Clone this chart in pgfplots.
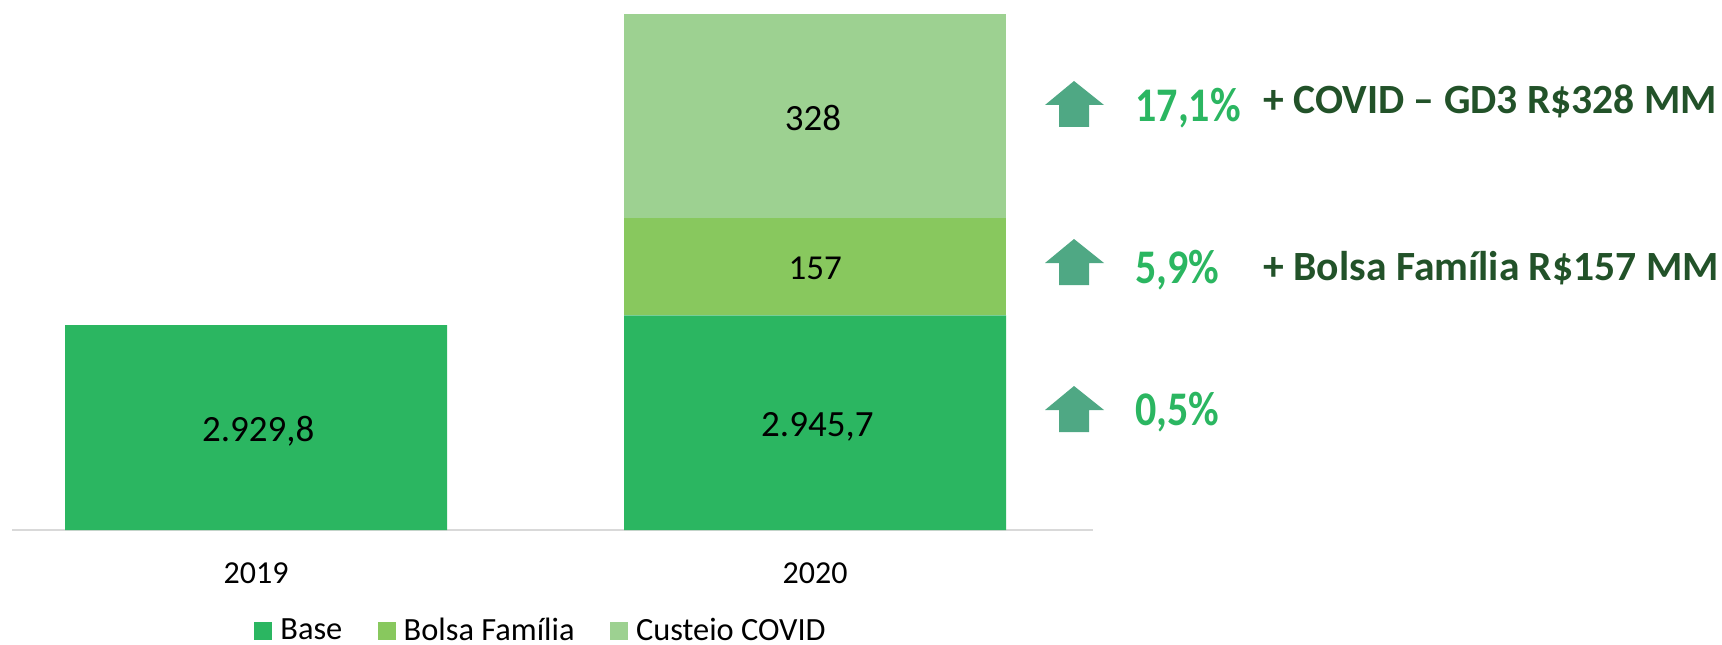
\documentclass[border=0pt]{standalone}
\usepackage{fontspec}
\setmainfont{Carlito}
\usepackage{pgfplots}
\pgfplotsset{compat=1.18}
\definecolor{cbase}{HTML}{2BB661}
\definecolor{cbolsa}{HTML}{88C85E}
\definecolor{ccovid}{HTML}{9DD191}
\definecolor{carrow}{HTML}{4FA884}
\definecolor{cdark}{HTML}{225229}
\begin{document}
\begin{tikzpicture}[x=1pt,y=1pt]
\path[use as bounding box] (0,0) rectangle (861,322);
\begin{axis}[
    at={(6pt,57pt)},
    anchor=south west,
    scale only axis,
    width=540.5pt,
    height=258pt,
    ybar stacked,
    bar width=191pt,
    xmin=-0.4365, xmax=1.497,
    ymin=2600, ymax=3430.7,
    axis x line=bottom,
    axis y line=none,
    axis line style={draw=black!15,line width=1.2pt,-},
    xtick={0,1},
    xticklabels={2019,2020},
    major tick length=0pt,
    xticklabel style={font=\fontsize{16}{18}\selectfont,yshift=-12.7pt},
    legend columns=-1,
    legend style={draw=none,fill=none,at={(121pt,-50.5pt)},anchor=west,inner sep=0pt,
        font=\fontsize{16.2}{18}\selectfont,
        /tikz/every even column/.append style={column sep=15.7pt},
        /tikz/every odd column/.append style={column sep=2pt}},
    legend image code/.code={\fill[#1] (0pt,-4.5pt) rectangle (9pt,4.5pt);},
]
\addplot[fill=cbase,draw=none] coordinates {(0,2929.8) (1,2945.7)};
\addplot[fill=cbolsa,draw=none] coordinates {(0,0) (1,157)};
\addplot[fill=ccovid,draw=none] coordinates {(0,0) (1,328)};
\legend{Base,Bolsa Família,Custeio COVID}
\end{axis}
% second axis with the same limits: the stacked bars are drawn last, so labels go on top here
\begin{axis}[
    at={(6pt,57pt)},
    anchor=south west,
    scale only axis,
    width=540.5pt,
    height=258pt,
    xmin=-0.4365, xmax=1.497,
    ymin=2600, ymax=3430.7,
    hide axis,
]
\node[font=\fontsize{18.5}{20}\selectfont] at (axis cs:0.004,2758.5) {2.929,8};
\node[font=\fontsize{18.5}{20}\selectfont] at (axis cs:1.004,2766.5) {2.945,7};
\node[font=\fontsize{17.5}{20}\selectfont] at (axis cs:1,3021) {157};
\node[font=\fontsize{18.5}{20}\selectfont] at (axis cs:0.996,3263) {328};
\end{axis}
\begin{scope}[x=0.5pt,y=-0.5pt,yshift=322pt]
\foreach \t in {81,239,386}{
  \fill[carrow] (1074,\t) -- (1104,\t+24) -- (1089,\t+24) -- (1089,\t+46) -- (1059,\t+46) -- (1059,\t+24) -- (1045,\t+24) -- cycle;
}
\node[anchor=west,inner sep=0pt,text=cbase,yscale=1.15,font=\bfseries\fontsize{21}{24}\selectfont] at (1135,108) {17,1\%};
\node[anchor=west,inner sep=0pt,text=cbase,yscale=1.15,font=\bfseries\fontsize{21}{24}\selectfont] at (1135,270) {5,9\%};
\node[anchor=west,inner sep=0pt,text=cbase,yscale=1.15,font=\bfseries\fontsize{21}{24}\selectfont] at (1135,412) {0,5\%};
\node[anchor=west,inner sep=0pt,text=cdark,font=\bfseries\fontsize{20.8}{24}\selectfont] at (1263,101) {+ COVID – GD3 R\$328 MM};
\node[anchor=west,inner sep=0pt,text=cdark,font=\bfseries\fontsize{20.8}{24}\selectfont] at (1263,268) {+ Bolsa Família R\$157 MM};
\end{scope}
\end{tikzpicture}
\end{document}
